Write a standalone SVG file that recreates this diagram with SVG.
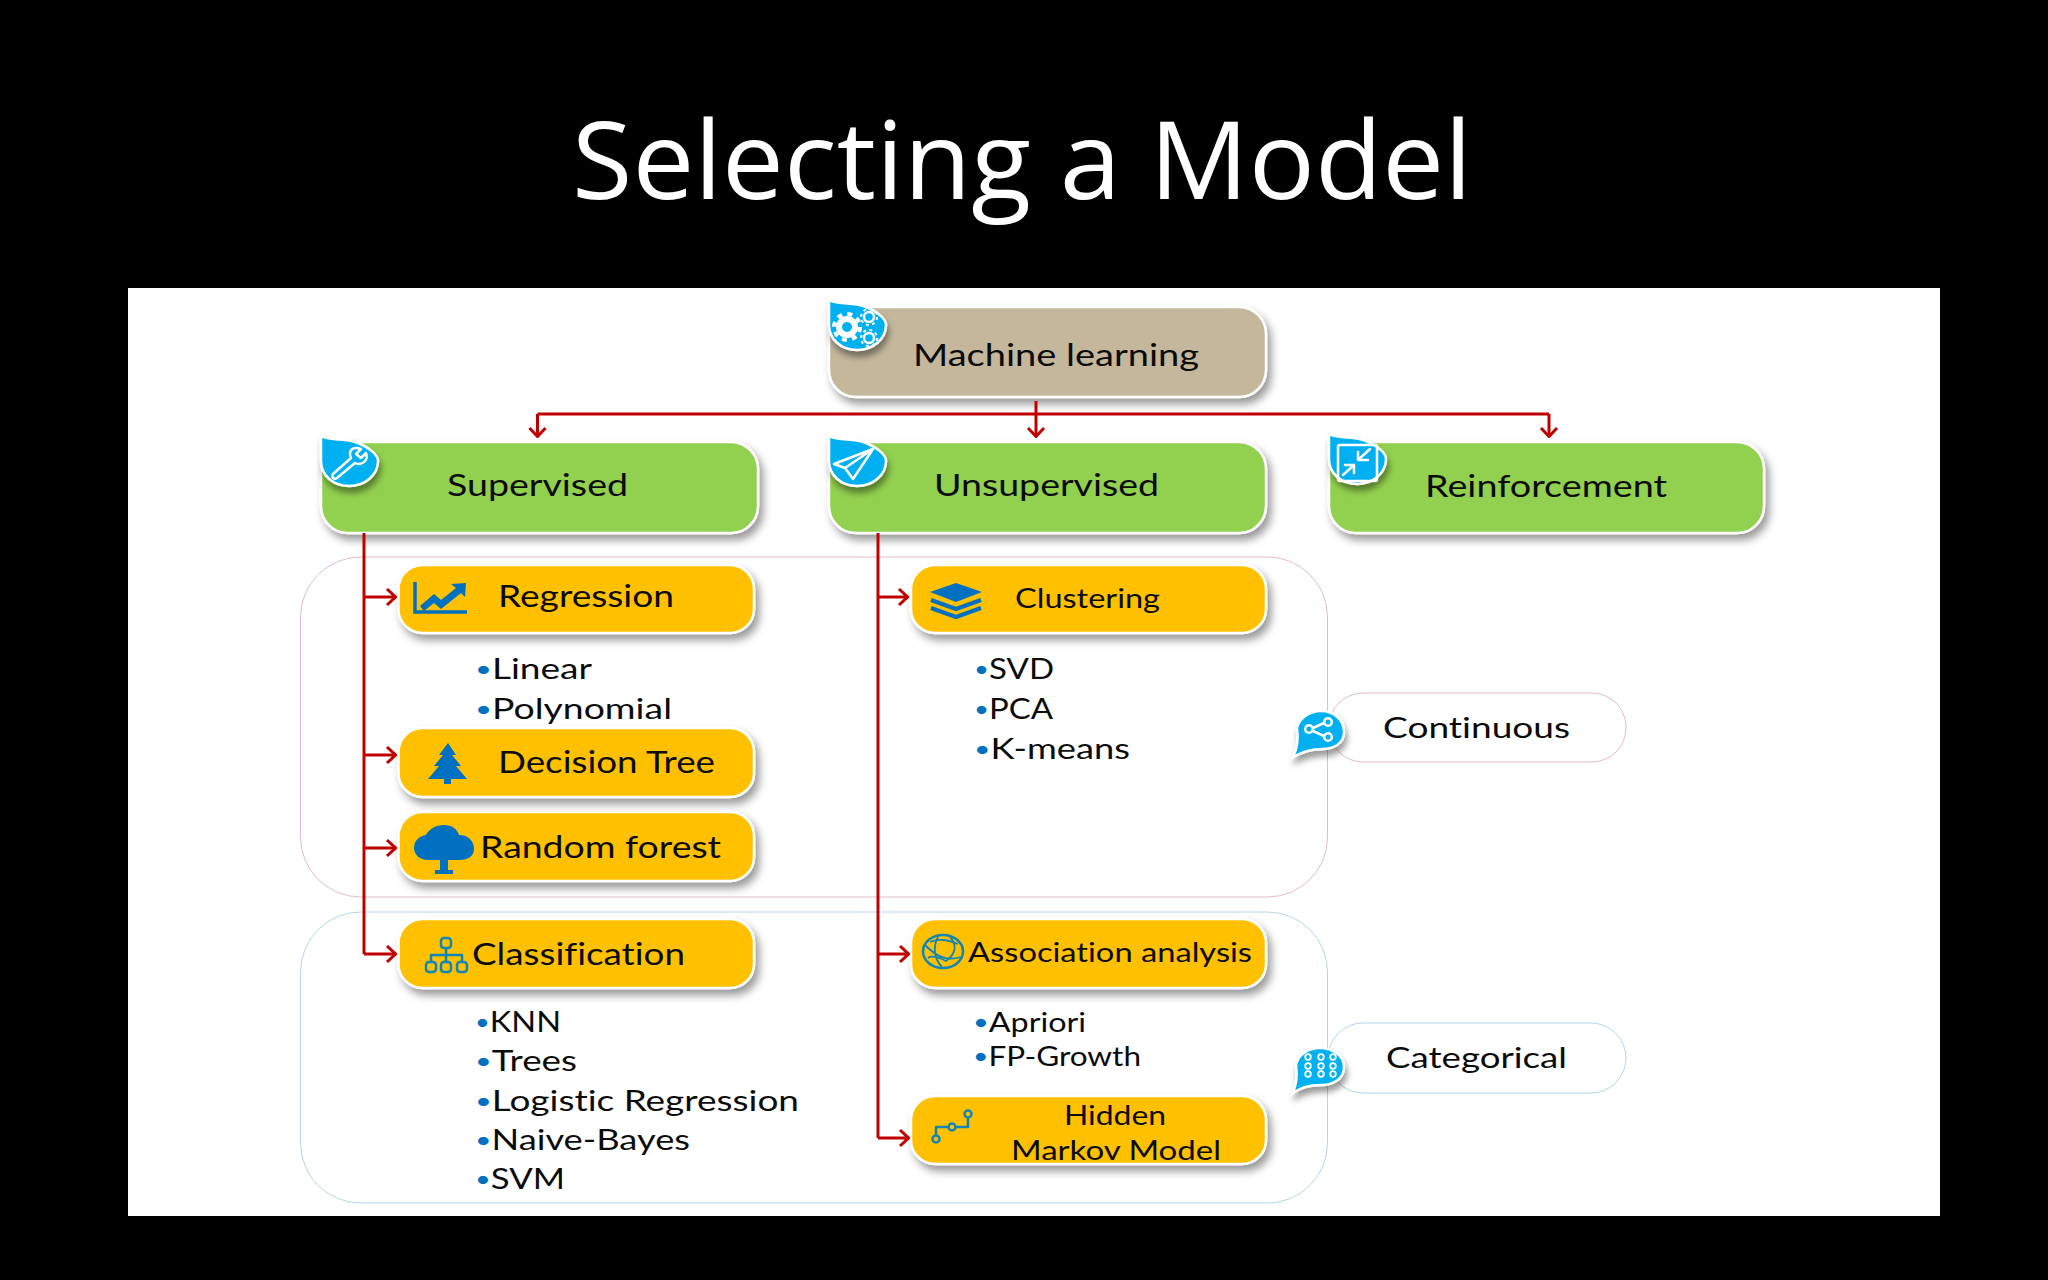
<svg xmlns="http://www.w3.org/2000/svg" width="2048" height="1280" viewBox="0 0 2048 1280">
<defs>
<style>
text{font-family:"Lato","Liberation Sans",sans-serif;fill:#0b0b0b;font-variant-ligatures:none}
.t29{font-size:30px}
.t27{font-size:28px}
.t25{font-size:26px}
.b{fill:#0070c0;font-size:22px}
.box{stroke:#fff;stroke-width:2.5;filter:url(#sh)}
.tan{fill:#c4b79c}.grn{fill:#92d050}.org{fill:#ffc000}
.grp{fill:none;stroke-width:1}
.con{fill:none;stroke:#c00000;stroke-width:3}
.arr{fill:none;stroke:#c00000;stroke-width:3;marker-end:url(#a)}
.drop{fill:#00b0f0;stroke:#fff;stroke-width:2.5;filter:url(#sh2)}
.wi{fill:none;stroke:#fff;stroke-width:2.5;stroke-linejoin:round;stroke-linecap:round}
.bi{fill:#0070c0}
.bl{fill:none;stroke:#0f86b8;stroke-width:2.5;stroke-linejoin:round}
</style>
<filter id="sh" x="-10%" y="-20%" width="125%" height="150%"><feDropShadow dx="4" dy="6" stdDeviation="4" flood-color="#000" flood-opacity=".4"/></filter>
<filter id="sh2" x="-30%" y="-30%" width="170%" height="170%"><feDropShadow dx="2" dy="6" stdDeviation="3" flood-color="#000" flood-opacity=".4"/></filter>
<marker id="a" viewBox="0 0 13 20" refX="12" refY="10" markerWidth="13" markerHeight="20" markerUnits="userSpaceOnUse" orient="auto"><path d="M3 2L11.500 10L3 18" fill="none" stroke="#c00000" stroke-width="3"/></marker>
<path id="dropTL" d="M0 0C11 5 25 2 37 7C49 12 57 19 57 25C57 39 44 50 28 50C12 50 0 39 0 25Z"/>
</defs>
<rect width="2048" height="1280" fill="#000"/>
<text x="572" y="199" textLength="900" lengthAdjust="spacingAndGlyphs" style="fill:#fff;font-family:'Open Sans','Liberation Sans',sans-serif;font-size:108px">Selecting a Model</text>
<rect x="128" y="288" width="1812" height="928" fill="#fff"/>

<rect id="group-continuous" class="grp" x="300.500" y="557" width="1027" height="340" rx="60" ry="60" stroke="#e6bcc4"/>
<rect id="group-categorical" class="grp" x="300.500" y="912" width="1027" height="291" rx="60" ry="60" stroke="#b5d5e8"/>

<g id="node-machine-learning"><rect class="box tan" x="829" y="307" width="437" height="90" rx="27"/><text class="t29" x="913" y="366" textLength="286" lengthAdjust="spacingAndGlyphs">Machine learning</text>
<use href="#dropTL" class="drop" x="829" y="300"/>
<circle cx="847" cy="327" r="8" fill="none" stroke="#fff" stroke-width="6"/><circle cx="847" cy="327" r="13" fill="none" stroke="#fff" stroke-width="4" stroke-dasharray="5 5.200"/>
<circle cx="869" cy="317" r="5" fill="none" stroke="#fff" stroke-width="2.500"/><circle cx="869" cy="317" r="8" fill="none" stroke="#fff" stroke-width="2" stroke-dasharray="3 3.300"/>
<circle cx="869" cy="338" r="5" fill="none" stroke="#fff" stroke-width="2.500"/><circle cx="869" cy="338" r="8" fill="none" stroke="#fff" stroke-width="2" stroke-dasharray="3 3.300"/></g>

<g id="node-supervised"><rect class="box grn" x="321" y="442" width="437" height="91" rx="27"/><text class="t29" x="447" y="496" textLength="181" lengthAdjust="spacingAndGlyphs">Supervised</text>
<use href="#dropTL" class="drop" x="321" y="436"/>
<path class="wi" d="M333 474L351 458C348 451 352 446 361 449L356 454L361 458L366 453C369 461 361 466 355 463L337 478C334 480 331 477 333 474Z"/></g>

<g id="node-unsupervised"><rect class="box grn" x="829" y="442" width="437" height="91" rx="27"/><text class="t29" x="934" y="496" textLength="225" lengthAdjust="spacingAndGlyphs">Unsupervised</text>
<use href="#dropTL" class="drop" x="829" y="436"/>
<path class="wi" d="M873 449L834 464L845 468L853 479ZM873 449L845 468"/></g>

<g id="node-reinforcement"><rect class="box grn" x="1329" y="442" width="435" height="91" rx="27"/><text class="t29" x="1425" y="497" textLength="242" lengthAdjust="spacingAndGlyphs">Reinforcement</text>
<use href="#dropTL" class="drop" x="1329" y="434"/>
<rect class="wi" x="1338" y="445" width="39" height="36" rx="2"/><path class="wi" d="M1370 449L1358 460M1358 452V460H1368M1343 475L1354 465M1345 465H1354V473"/></g>

<g id="node-regression"><rect class="box org" x="398.500" y="565" width="355.500" height="68" rx="24"/><text class="t29" x="498" y="607" textLength="176" lengthAdjust="spacingAndGlyphs">Regression</text>
<path d="M415 582V612H467" fill="none" stroke="#0070c0" stroke-width="3.500"/><path class="bi" d="M420 606L434 594L441 600L456 588L451 584L466 583L465 597L461 593L441 609L434 603L424 611Z"/></g>

<g id="node-clustering"><rect class="box org" x="911" y="565" width="355" height="68" rx="24"/><text class="t25" x="1015" y="608" textLength="145" lengthAdjust="spacingAndGlyphs">Clustering</text>
<path class="bi" d="M956 583L982 592L956 602L930 592Z"/><path d="M931 600L956 609L981 600M931 608L956 617L981 608" fill="none" stroke="#0070c0" stroke-width="4"/></g>

<g id="node-decision-tree"><rect class="box org" x="398.500" y="728" width="355.500" height="69" rx="24"/><text class="t29" x="498" y="773" textLength="217" lengthAdjust="spacingAndGlyphs">Decision Tree</text>
<path class="bi" d="M448 743L456 755H452L461 766H456L467 779H451V784H444V779H428L439 766H434L443 755H439Z"/></g>

<g id="node-random-forest"><rect class="box org" x="398.500" y="812" width="355.500" height="69" rx="24"/><text class="t29" x="480" y="858" textLength="241" lengthAdjust="spacingAndGlyphs">Random forest</text>
<path class="bi" d="M444 825C452 825 457 829 459 835C468 835 474 841 474 849C474 856 468 860 460 860H448V870H453V874H435V870H440V860H428C420 860 414 855 414 848C414 841 419 836 426 835C429 829 436 825 444 825Z"/></g>

<g id="node-classification"><rect class="box org" x="398.500" y="919" width="355.500" height="69" rx="24"/><text class="t29" x="472" y="965" textLength="213" lengthAdjust="spacingAndGlyphs">Classification</text>
<g class="bl"><rect x="441" y="938" width="10" height="10" rx="3"/><rect x="426" y="962" width="10" height="10" rx="3"/><rect x="441" y="962" width="10" height="10" rx="3"/><rect x="457" y="962" width="10" height="10" rx="3"/><path d="M446 948V962M431 962V955H462V962"/></g></g>

<g id="node-association"><rect class="box org" x="911" y="919" width="355" height="69" rx="24"/><text class="t25" x="968" y="962" textLength="284" lengthAdjust="spacingAndGlyphs">Association analysis</text>
<g class="bl"><ellipse cx="943" cy="951.500" rx="20" ry="16.500"/><path d="M925 945C935 955 945 962 961 957M938 937C932 948 935 960 942 967M950 937C958 945 955 955 946 961C940 958 932 955 928 958M930 942C940 938 948 940 958 944" stroke-width="1.800"/></g></g>

<g id="node-hmm"><rect class="box org" x="911" y="1096" width="355" height="68" rx="24"/><text class="t25" x="1064" y="1125" textLength="102" lengthAdjust="spacingAndGlyphs">Hidden</text><text class="t25" x="1011" y="1160" textLength="210" lengthAdjust="spacingAndGlyphs">Markov Model</text>
<g class="bl"><circle cx="936" cy="1139" r="3.500"/><circle cx="952" cy="1127" r="3.500"/><circle cx="968" cy="1114" r="3.500"/><path d="M936 1135V1127H948M956 1127H968V1118"/></g></g>

<g id="node-continuous"><rect x="1329" y="693" width="297" height="69" rx="34" fill="#fff" stroke="#e6bcc4" stroke-width="1"/><text class="t27" x="1383" y="738" textLength="187" lengthAdjust="spacingAndGlyphs">Continuous</text>
<path class="drop" d="M1293 757C1299 745 1298 735 1297 728C1299 718 1310 711 1321 711C1334 711 1344 720 1344 732C1344 744 1333 749 1322 749C1312 749 1302 752 1293 757Z"/>
<g class="wi"><circle cx="1309" cy="729" r="3.800"/><circle cx="1328" cy="722" r="3.800"/><circle cx="1328" cy="737" r="3.800"/><path d="M1313 728L1324 723M1313 731L1324 736"/></g></g>

<g id="node-categorical"><rect x="1328" y="1023" width="298" height="70" rx="35" fill="#fff" stroke="#b5d5e8" stroke-width="1"/><text class="t27" x="1386" y="1068" textLength="181" lengthAdjust="spacingAndGlyphs">Categorical</text>
<path class="drop" d="M1293 1093C1298 1080 1297 1072 1296 1066C1297 1055 1308 1048 1320 1048C1333 1048 1344 1056 1344 1067C1344 1079 1333 1085 1321 1085C1311 1085 1301 1087 1293 1093Z"/>
<g fill="none" stroke="#fff" stroke-width="1.800"><circle cx="1308" cy="1057" r="2.800"/><circle cx="1321" cy="1057" r="2.800"/><circle cx="1333" cy="1057" r="2.800"/><circle cx="1308" cy="1066" r="2.800"/><circle cx="1321" cy="1066" r="2.800"/><circle cx="1333" cy="1066" r="2.800"/><circle cx="1308" cy="1074" r="2.800"/><circle cx="1321" cy="1074" r="2.800"/><circle cx="1333" cy="1074" r="2.800"/></g></g>

<g id="connectors">
<path class="con" d="M537.500 414H1549"/>
<path class="arr" d="M537.500 414V437"/><path class="arr" d="M1036 401V437"/><path class="arr" d="M1549 414V437"/>
<path class="con" d="M364 533V954"/>
<path class="arr" d="M364 597H396"/><path class="arr" d="M364 755H396"/><path class="arr" d="M364 848H396"/><path class="arr" d="M364 954H396"/>
<path class="con" d="M878 533V1138"/>
<path class="arr" d="M878 597H908"/><path class="arr" d="M878 954H909"/><path class="arr" d="M878 1138H909"/>
</g>

<g id="lists">
<text class="t27" x="475" y="679" textLength="117" lengthAdjust="spacingAndGlyphs"><tspan class="b" dy="-2">•</tspan><tspan dy="2">Linear</tspan></text>
<text class="t27" x="475" y="719" textLength="197" lengthAdjust="spacingAndGlyphs"><tspan class="b" dy="-2">•</tspan><tspan dy="2">Polynomial</tspan></text>
<text class="t27" x="974" y="679" textLength="80" lengthAdjust="spacingAndGlyphs"><tspan class="b" dy="-2">•</tspan><tspan dy="2">SVD</tspan></text>
<text class="t27" x="974" y="719" textLength="79" lengthAdjust="spacingAndGlyphs"><tspan class="b" dy="-2">•</tspan><tspan dy="2">PCA</tspan></text>
<text class="t27" x="974" y="759" textLength="156" lengthAdjust="spacingAndGlyphs"><tspan class="b" dy="-2">•</tspan><tspan dy="2">K-means</tspan></text>
<text class="t27" x="475" y="1032" textLength="86" lengthAdjust="spacingAndGlyphs"><tspan class="b" dy="-2">•</tspan><tspan dy="2">KNN</tspan></text>
<text class="t27" x="475" y="1071" textLength="102" lengthAdjust="spacingAndGlyphs"><tspan class="b" dy="-2">•</tspan><tspan dy="2">Trees</tspan></text>
<text class="t27" x="475" y="1111" textLength="324" lengthAdjust="spacingAndGlyphs"><tspan class="b" dy="-2">•</tspan><tspan dy="2">Logistic Regression</tspan></text>
<text class="t27" x="475" y="1150" textLength="215" lengthAdjust="spacingAndGlyphs"><tspan class="b" dy="-2">•</tspan><tspan dy="2">Naive-Bayes</tspan></text>
<text class="t27" x="475" y="1189" textLength="90" lengthAdjust="spacingAndGlyphs"><tspan class="b" dy="-2">•</tspan><tspan dy="2">SVM</tspan></text>
<text class="t25" x="973" y="1032" textLength="113" lengthAdjust="spacingAndGlyphs"><tspan class="b" dy="-2">•</tspan><tspan dy="2">Apriori</tspan></text>
<text class="t25" x="973" y="1066" textLength="168" lengthAdjust="spacingAndGlyphs"><tspan class="b" dy="-2">•</tspan><tspan dy="2">FP-Growth</tspan></text>
</g>
</svg>
